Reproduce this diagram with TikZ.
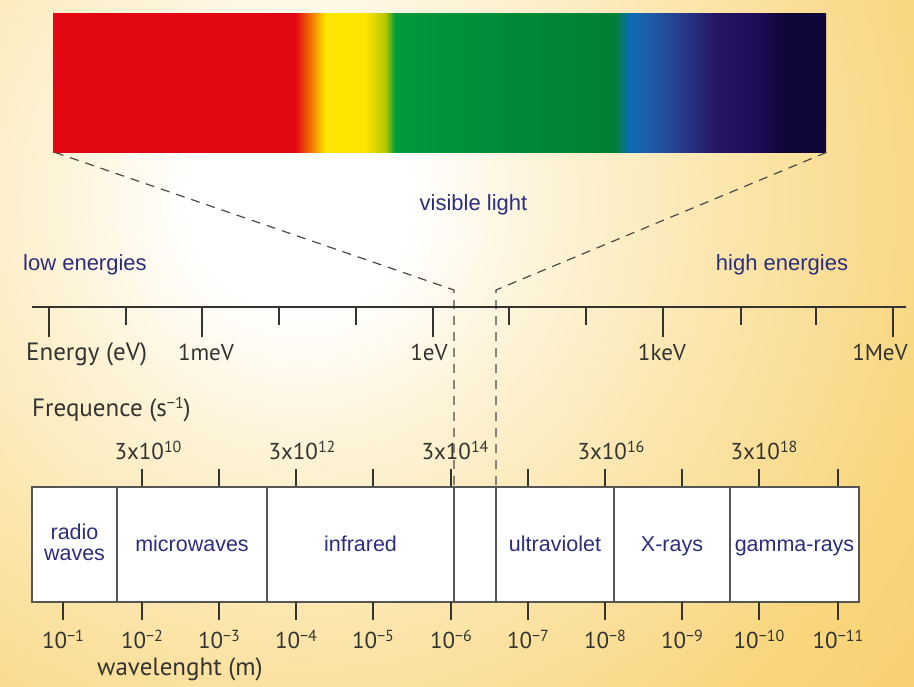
\documentclass[tikz,border=0pt]{standalone}
\usepackage{fontspec}
\setmainfont{Liberation Sans}
\newfontfamily\axfont{PT Sans}
\definecolor{navy}{HTML}{2B2E7A}
\definecolor{axgray}{HTML}{33332F}
\definecolor{boxgray}{HTML}{555555}
\definecolor{dashgray}{HTML}{4A4A44}
\definecolor{bgA}{HTML}{FDF2D4}
\definecolor{bgB}{HTML}{FBE4A8}
\definecolor{bgC}{HTML}{F9D67F}
\definecolor{bgD}{HTML}{F6CB64}
\definecolor{sRed}{HTML}{E30613}
\definecolor{sOrange}{HTML}{F07800}
\definecolor{sYellow}{HTML}{FFE500}
\definecolor{sYG}{HTML}{B4C800}
\definecolor{sGreenA}{HTML}{009A3C}
\definecolor{sGreenB}{HTML}{008A38}
\definecolor{sGreenC}{HTML}{007F35}
\definecolor{sBlueA}{HTML}{0B6DB6}
\definecolor{sBlueB}{HTML}{1D5BA6}
\definecolor{sBlueC}{HTML}{283B8C}
\definecolor{sIndA}{HTML}{251565}
\definecolor{sIndB}{HTML}{1E0C58}
\definecolor{sNavy}{HTML}{100637}
\pgfdeclareradialshading{bgshade}{\pgfpoint{0bp}{0bp}}{color(0bp)=(white); color(3.06bp)=(white); color(7.22bp)=(bgA); color(12.5bp)=(bgB); color(18.06bp)=(bgC); color(25bp)=(bgD); color(50bp)=(bgD)}
\pgfdeclarehorizontalshading{spectrum}{100bp}{color(0bp)=(sRed); color(40.655bp)=(sRed); color(41.69bp)=(sOrange); color(42.595bp)=(sYellow); color(45.18bp)=(sYellow); color(46.475bp)=(sYG); color(47.12bp)=(sGreenA); color(54.105bp)=(sGreenB); color(61.35bp)=(sGreenC); color(62.255bp)=(sBlueA); color(63.68bp)=(sBlueB); color(65.62bp)=(sBlueC); color(67.82bp)=(sIndA); color(70.6bp)=(sIndB); color(72.09bp)=(sNavy); color(100bp)=(sNavy)}
\newcommand\upsc[1]{\raisebox{7pt}{\fontsize{16}{16}\selectfont #1}}
\begin{document}
\begin{tikzpicture}[x=1pt,y=-1pt,
  navytext/.style={text=navy,font=\fontsize{22}{22}\selectfont,inner sep=0pt},
  bandtext/.style={text=navy,font=\fontsize{21.5}{21.5}\selectfont,inner sep=0pt,anchor=base},
  axlabel/.style={text=axgray,font=\axfont\fontsize{23}{23}\selectfont,inner sep=0pt},
  axtitle/.style={text=axgray,font=\axfont\fontsize{25}{25}\selectfont,inner sep=0pt},
  band/.style={draw=boxgray,line width=1.2pt,fill=white,minimum height=115pt,inner sep=0pt},
  tickline/.style={draw=axgray,line width=1.5pt},
  axisline/.style={draw=axgray,line width=1.5pt},
  dashline/.style={draw=dashgray,line width=1.2pt,dash pattern=on 9pt off 7pt}]
\useasboundingbox (0,0) rectangle (914,687);
\begin{scope}
  \clip (0,0) rectangle (914,687);
  \shade[shading=bgshade] (-600,-700) rectangle (1200,1100);
\end{scope}
% spectrum bar
\node[shading=spectrum,minimum width=773pt,minimum height=139pt,inner sep=0pt,anchor=north west] (bar) at (53,13) {};
% dashed guide lines
\coordinate (vl) at (454,290);
\coordinate (vr) at (496,290);
\coordinate (vlb) at (454,487);
\coordinate (vrb) at (496,487);
\draw[dashline] ([xshift=2pt]bar.south west) -- (vl) -- (vlb);
\draw[dashline] (bar.south east) -- (vr) -- (vrb);
% labels
\node[navytext,anchor=base] (vis) at (473.5,211) {visible light};
\node[navytext,anchor=base west] (low) at (23,271) {low energies};
\node[navytext,anchor=base] (high) at (782,271) {high energies};
% energy axis
\draw[axisline] (32,307) -- (906,307);
\foreach \x in {49,202,433,663,893} \draw[tickline] (\x,307) -- (\x,337);
\foreach \x in {126,279,356,509,586,741,816} \draw[tickline] (\x,307) -- (\x,325);
\node[axtitle,anchor=base west] (elab) at (26,361) {Energy (eV)};
\node[axlabel,anchor=base] (e1) at (206,361) {1meV};
\node[axlabel,anchor=base] (e2) at (429,361) {1eV};
\node[axlabel,anchor=base] (e3) at (662,361) {1keV};
\node[axlabel,anchor=base] (e4) at (880,361) {1MeV};
% frequency
\node[axtitle,anchor=base west] (flab) at (32,416) {Frequence (s\upsc{−1})};
\foreach \x in {142,219,296,373,451,528,605,682,759,838} \draw[tickline] (\x,469) -- (\x,487);
\node[axlabel,anchor=base] (f1) at (148,459) {3x10\upsc{10}};
\node[axlabel,anchor=base] (f2) at (302,459) {3x10\upsc{12}};
\node[axlabel,anchor=base] (f3) at (455,459) {3x10\upsc{14}};
\node[axlabel,anchor=base] (f4) at (611,459) {3x10\upsc{16}};
\node[axlabel,anchor=base] (f5) at (764,459) {3x10\upsc{18}};
% bands
\node[band,minimum width=85pt] (radio) at (74.5,544.5) {};
\node[band,minimum width=150pt] (micro) at (192,544.5) {};
\node[band,minimum width=187pt] (ir) at (360.5,544.5) {};
\node[band,minimum width=42pt] (visband) at (475,544.5) {};
\node[band,minimum width=118pt] (uv) at (555,544.5) {};
\node[band,minimum width=116pt] (xr) at (672,544.5) {};
\node[band,minimum width=129pt] (gam) at (794.5,544.5) {};
\node[bandtext] (radiot1) at (74.5,539) {radio};
\node[bandtext] (radiot2) at (74.5,560) {waves};
\node[bandtext] (microt) at (192,551.5) {microwaves};
\node[bandtext] (irt) at (360.5,551.5) {infrared};
\node[bandtext] (uvt) at (555,551.5) {ultraviolet};
\node[bandtext] (xrt) at (672,551.5) {X-rays};
\node[bandtext] (gamt) at (794.5,551.5) {gamma-rays};
% wavelength
\foreach \x in {63,142,219,296,373,451,528,605,682,759,838} \draw[tickline] (\x,602) -- (\x,620);
\foreach \x/\e [count=\i] in {63/1,142/2,219/3,296/4,373/5,451/6,528/7,605/8,682/9,759/10,838/11}
  \node[axlabel,anchor=base] (w\i) at (\x,648) {10\upsc{−\e}};
\node[axtitle,anchor=base west] (wlab) at (97,675) {wavelenght (m)};
\end{tikzpicture}
\end{document}
